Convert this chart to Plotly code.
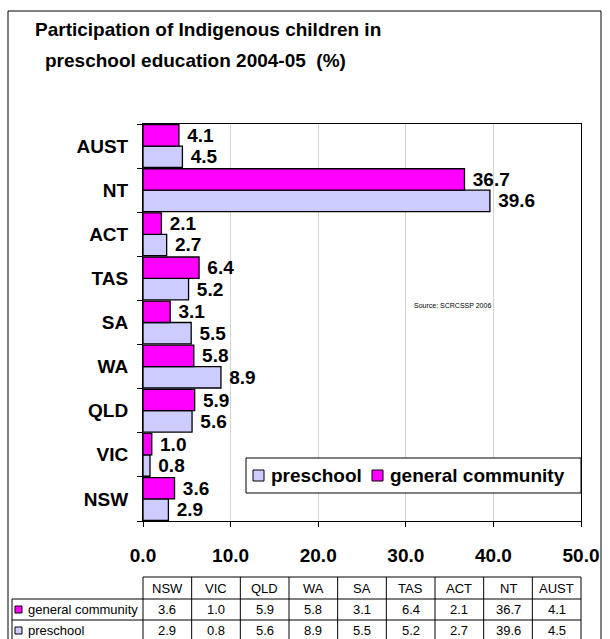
import plotly.graph_objects as go

# data, bottom to top as in the chart
regions = ["NSW", "VIC", "QLD", "WA", "SA", "TAS", "ACT", "NT", "AUST"]
general_community = [3.6, 1.0, 5.9, 5.8, 3.1, 6.4, 2.1, 36.7, 4.1]
preschool = [2.9, 0.8, 5.6, 8.9, 5.5, 5.2, 2.7, 39.6, 4.5]
x_ticks = [0, 10, 20, 30, 40, 50]

title_lines = ["Participation of Indigenous children in", "preschool education 2004-05  (%)"]
source_note = "Source: SCRCSSP 2006"

PRE_COLOR = "#CCCCFF"
GEN_COLOR = "#FF00FF"
FONT = "Liberation Sans, Arial, sans-serif"

# plot area in pixels (figure is 610 x 639)
L, R, T, B = 143, 581, 124, 521
W, H = R - L, B - T


def px(x):
    return (x - L) / W


def py(y):
    return (B - y) / H


bold = dict(family=FONT, size=19, color="black", weight="bold")

fig = go.Figure()
for name, values, color in [("preschool", preschool, PRE_COLOR),
                            ("general community", general_community, GEN_COLOR)]:
    fig.add_trace(go.Bar(
        y=regions, x=values, orientation="h", name=name,
        marker=dict(color=color, line=dict(color="black", width=1.3)),
        texttemplate="\u00a0%{x:.1f}", textposition="outside", textfont=bold,
        constraintext="none", cliponaxis=False, showlegend=False,
    ))

shapes = []
annotations = []

# outer chart frame
shapes.append(dict(type="rect", xref="paper", yref="paper", x0=px(8), x1=px(601),
                   y0=py(11), y1=py(660), line=dict(color="black", width=1), layer="below"))

# title
annotations.append(dict(text=title_lines[0], x=px(33), y=py(30), xanchor="left", yanchor="middle"))
annotations.append(dict(text=title_lines[1], x=px(43), y=py(60), xanchor="left", yanchor="middle"))
for a in annotations:
    a.update(xref="paper", yref="paper", showarrow=False, font=bold)

annotations.append(dict(text=source_note, x=px(412), y=py(305), xref="paper", yref="paper",
                        xanchor="left", yanchor="middle", showarrow=False,
                        font=dict(family=FONT, size=7, color="black")))

# legend box
shapes.append(dict(type="rect", xref="paper", yref="paper", x0=px(246), x1=px(581),
                   y0=py(493), y1=py(458), fillcolor="white", line=dict(color="black", width=1)))
for sx, tx, color, label in [(253, 269, PRE_COLOR, "preschool"),
                             (372, 388, GEN_COLOR, "general community")]:
    shapes.append(dict(type="rect", xref="paper", yref="paper", x0=px(sx), x1=px(sx + 11),
                       y0=py(481), y1=py(470), fillcolor=color, line=dict(color="black", width=1)))
    annotations.append(dict(text=label, x=px(tx), y=py(475.5), xref="paper", yref="paper",
                            xanchor="left", yanchor="middle", showarrow=False, font=bold))

# data table below the axis
n = len(regions)
row_top, row_gen, row_pre, row_end = 577, 599, 620, 641
line = dict(color="black", width=1)
table_font = dict(family=FONT, size=13, color="black")


def hline(y, x0, x1):
    shapes.append(dict(type="line", xref="paper", yref="paper", x0=x0, x1=x1,
                       y0=py(y), y1=py(y), line=line))


def vline(x, y0, y1):
    shapes.append(dict(type="line", xref="paper", yref="paper", x0=x, x1=x,
                       y0=py(y0), y1=py(y1), line=line))


hline(row_top, 0, 1)
for y in (row_gen, row_pre, row_end):
    hline(y, px(12), 1)
for i in range(n + 1):
    vline(i / n, row_top, row_end)
vline(px(12), row_gen, row_end)

for i, reg in enumerate(regions):
    xc = (i + 0.5) / n
    for y, txt in [((row_top + row_gen) / 2, reg),
                   ((row_gen + row_pre) / 2, f"{general_community[i]:.1f}"),
                   ((row_pre + row_end) / 2, f"{preschool[i]:.1f}")]:
        annotations.append(dict(text=txt, x=xc, y=py(y), xref="paper", yref="paper",
                                xanchor="center", yanchor="middle", showarrow=False,
                                font=table_font))

for y0, y1, color, label in [(row_gen, row_pre, GEN_COLOR, "general community"),
                             (row_pre, row_end, PRE_COLOR, "preschool")]:
    yc = (y0 + y1) / 2
    shapes.append(dict(type="rect", xref="paper", yref="paper", x0=px(15), x1=px(22),
                       y0=py(yc + 3.5), y1=py(yc - 3.5), fillcolor=color,
                       line=dict(color="black", width=1)))
    annotations.append(dict(text=label, x=px(26), y=py(yc), xref="paper", yref="paper",
                            xanchor="left", yanchor="middle", showarrow=False, font=table_font))

fig.update_layout(
    width=610, height=639,
    margin=dict(l=L, r=610 - R, t=T, b=639 - B),
    barmode="group", bargap=0.03, bargroupgap=0,
    paper_bgcolor="white", plot_bgcolor="white",
    font=dict(family=FONT, color="black"),
    shapes=shapes, annotations=annotations,
    showlegend=False,
)
fig.update_xaxes(
    range=[0, 50], tickvals=x_ticks, tickformat=".1f",
    showgrid=True, gridcolor="#d4d4d4", gridwidth=1, zeroline=False,
    showline=True, linecolor="black", linewidth=1, mirror=True,
    ticks="outside", ticklen=5, tickcolor="black",
    tickfont=bold, ticklabelstandoff=12,
)
fig.update_yaxes(
    type="category", categoryorder="array", categoryarray=regions,
    showgrid=False, showline=True, linecolor="black", linewidth=1, mirror=True,
    ticks="outside", ticklen=5, tickcolor="black", tickson="boundaries",
    tickfont=bold, ticklabelstandoff=10,
)

fig.write_html("out.html", config={"displayModeBar": False},
               post_script="document.body.style.margin='0';")
